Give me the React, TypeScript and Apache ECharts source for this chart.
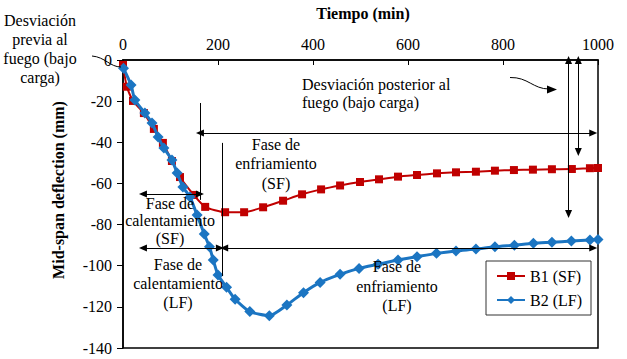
import React, { useEffect, useRef } from "react";
import * as echarts from "echarts";

// Time (min) and mid-span deflection (mm)
const TIME_B1 = [0, 8, 21, 44, 65, 84, 103, 120, 149, 173, 215, 255, 295, 337, 377, 417, 457, 499, 539, 579, 619, 661, 701, 743, 783, 823, 863, 903, 945, 983, 1000];
const DEFL_B1 = [-2.4, -13.0, -19.9, -25.8, -33.5, -40.3, -49.1, -56.9, -65.6, -71.4, -74.0, -74.0, -71.6, -68.4, -65.3, -62.9, -61.0, -59.3, -58.0, -56.7, -55.9, -55.1, -54.6, -54.3, -53.8, -53.5, -53.3, -53.1, -53.0, -52.6, -52.5];

const TIME_B2 = [1, 17, 25, 46, 61, 74, 86, 103, 114, 126, 141, 156, 171, 182, 190, 200, 218, 236, 267, 308, 345, 380, 415, 457, 497, 537, 579, 619, 660, 701, 743, 783, 824, 864, 903, 944, 983, 1000];
const DEFL_B2 = [-4.0, -12.2, -19.4, -25.8, -30.6, -37.4, -42.8, -48.6, -54.9, -61.7, -66.6, -75.4, -84.6, -90.8, -97.2, -104.5, -110.5, -116.3, -122.3, -124.3, -119.1, -113.1, -108.1, -104.2, -101.3, -99.3, -97.2, -95.6, -94.0, -92.8, -91.9, -90.8, -90.0, -89.1, -88.6, -88.0, -87.5, -87.2];

const SERIES_NAMES = ["B1 (SF)", "B2 (LF)"];
const X_AXIS_TITLE = "Tiempo (min)";
const Y_AXIS_TITLE = "Mid-span deflection (mm)";

// Annotation segments in data coordinates: [start, end, startArrow, endArrow]
const ANNOTATIONS: [number[], number[], boolean, boolean][] = [
  [[162, -20.9], [162, -68], false, false],
  [[162, -35.5], [990, -35.5], true, true],
  [[208, -40.3], [208, -105], false, false],
  [[42, -65.1], [162, -65.1], true, true],
  [[42, -91.4], [204, -91.4], true, true],
  [[213, -91.4], [990, -91.4], true, true],
  [[938, 0], [938, -74.9], true, true],
  [[958.5, 0], [958.5, -44.7], true, true],
  [[23, 1.5], [23, -5.5], true, true],
];

const FONT = "Times New Roman";

export default function App() {
  const ref = useRef<HTMLDivElement>(null);
  useEffect(() => {
    const chart = echarts.init(ref.current!, null, { renderer: "svg" });
    const markData = ANNOTATIONS.map(([a, b, sa, ea]) => [
      { coord: a, symbol: sa ? "triangle" : "none" },
      { coord: b, symbol: ea ? "triangle" : "none" },
    ]);
    const txt = (text: string, x: number, y: number, align: string, lh: number, bold = false, rotation = 0) => {
      const style: any = {
        text,
        fontFamily: FONT,
        fontSize: 16,
        fill: "#000",
        align,
        verticalAlign: "middle",
        lineHeight: lh,
      };
      if (bold) style.fontWeight = "bold";
      return { type: "text", x, y, z: 100, rotation, style };
    };
    const option: any = {
      animation: false,
      backgroundColor: "#fff",
      grid: {
        left: 123,
        top: 60,
        width: 475,
        height: 288,
        show: true,
        borderColor: "#000",
        borderWidth: 1.5,
      },
      legend: {
        data: SERIES_NAMES,
        orient: "vertical",
        left: 486,
        top: 261,
        backgroundColor: "#fff",
        borderColor: "#333",
        borderWidth: 1,
        padding: [7, 9, 7, 10],
        itemGap: 8,
        itemWidth: 28,
        itemHeight: 10,
        itemTextGap: 3,
        textStyle: { fontFamily: FONT, fontSize: 16, color: "#000" },
      },
      xAxis: {
        type: "value",
        position: "top",
        min: 0,
        max: 1000,
        interval: 200,
        axisLine: { show: true, lineStyle: { color: "#000", width: 1.5 } },
        axisTick: { show: true, inside: true, length: 5, lineStyle: { color: "#000" } },
        axisLabel: {
          fontFamily: FONT,
          fontSize: 16,
          color: "#000",
          margin: 8,
          formatter: (v: number) => String(v),
        },
        splitLine: { show: false },
      },
      yAxis: {
        type: "value",
        min: -140,
        max: 0,
        interval: 20,
        axisLine: { show: true, lineStyle: { color: "#000", width: 1.5 } },
        axisTick: { show: true, inside: false, length: 6, lineStyle: { color: "#000" } },
        axisLabel: {
          fontFamily: FONT,
          fontSize: 16,
          color: "#000",
          margin: 11,
          formatter: (v: number) => String(v),
        },
        splitLine: { show: false },
      },
      series: [
        {
          name: SERIES_NAMES[0],
          type: "line",
          data: TIME_B1.map((t, i) => [t, DEFL_B1[i]]),
          symbol: "rect",
          symbolSize: 8,
          smooth: 0.2,
          itemStyle: { color: "#c00000" },
          lineStyle: { color: "#c00000", width: 2 },
          z: 3,
          markLine: {
            silent: true,
            animation: false,
            symbolSize: [7, 8],
            label: { show: false },
            lineStyle: { color: "#000", width: 1, type: "solid" },
            data: markData,
          },
        },
        {
          name: SERIES_NAMES[1],
          type: "line",
          data: TIME_B2.map((t, i) => [t, DEFL_B2[i]]),
          symbol: "diamond",
          symbolSize: 11,
          smooth: 0.2,
          itemStyle: { color: "#1b75c2" },
          lineStyle: { color: "#1b75c2", width: 3 },
          z: 4,
        },
      ],
      graphic: [
        txt(X_AXIS_TITLE, 363, 13, "center", 18, true),
        txt(Y_AXIS_TITLE, 58, 190, "center", 18, true, Math.PI / 2),
        txt("Desviación\nprevia al\nfuego (bajo\ncarga)", 40, 49, "center", 19.3),
        txt("Desviación posterior al\nfuego (bajo carga)", 302, 93.5, "left", 18),
        txt("Fase de\nenfriamiento\n(SF)", 276, 163.5, "center", 19.5),
        txt("Fase de\ncalentamiento\n(SF)", 170, 220.5, "center", 17.5),
        txt("Fase de\ncalentamiento\n(LF)", 178, 283, "center", 19),
        txt("Fase de\nenfriamiento\n(LF)", 397, 286, "center", 19.5),
        {
          type: "bezierCurve",
          z: 50,
          shape: { x1: 92, y1: 56, cpx1: 105, cpy1: 57, cpx2: 110, cpy2: 67, x2: 121, y2: 67 },
          style: { stroke: "#000", lineWidth: 1, fill: "none" },
        },
        {
          type: "bezierCurve",
          z: 50,
          shape: { x1: 510, y1: 77.5, cpx1: 528, cpy1: 77, cpx2: 533, cpy2: 89, x2: 549, y2: 89 },
          style: { stroke: "#000", lineWidth: 1, fill: "none" },
        },
        {
          type: "polygon",
          z: 50,
          shape: { points: [[557, 89.5], [547, 85.5], [547, 93.5]] },
          style: { fill: "#000" },
        },
      ],
    };
    chart.setOption(option);
    return () => chart.dispose();
  }, []);
  return (
    <div
      ref={ref}
      style={{ position: "fixed", left: 0, top: 0, width: 627, height: 359, background: "#fff" }}
    />
  );
}
